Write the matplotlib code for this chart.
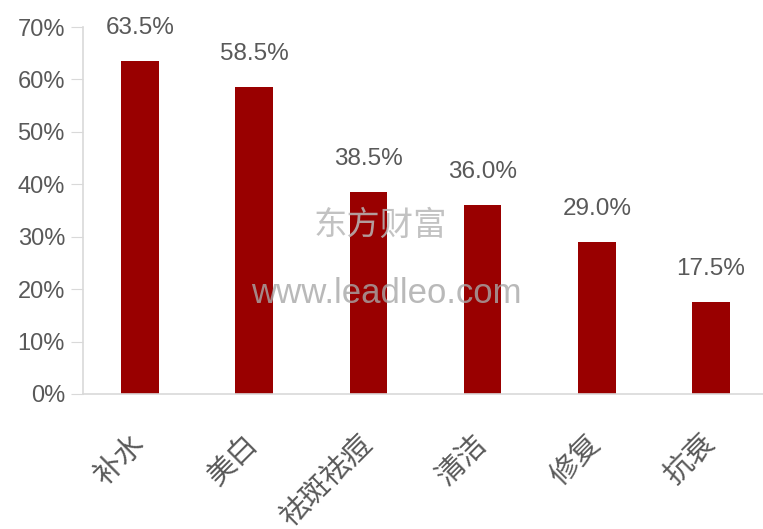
import matplotlib
matplotlib.use("Agg")
import matplotlib.pyplot as plt
from matplotlib.ticker import FuncFormatter
from matplotlib.transforms import ScaledTranslation

plt.rcParams["font.family"] = ["Liberation Sans", "Noto Sans CJK SC"]

categories = ["补水", "美白", "祛斑祛痘", "清洁", "修复", "抗衰"]
values = [63.5, 58.5, 38.5, 36.0, 29.0, 17.5]
yticks = [0, 10, 20, 30, 40, 50, 60, 70]

BAR = "#990000"
TEXT = "#595959"
AXIS = "#d9d9d9"


def main():
    fig = plt.figure(figsize=(7.63, 5.29), dpi=100)
    ax = fig.add_axes([0.1088, 0.2552, 0.8978, 0.6937])

    x = range(len(categories))
    ax.bar(x, values, width=0.33, color=BAR)
    for i, v in zip(x, values):
        ax.annotate(f"{v:.1f}%", (i, v), xytext=(0, 24), textcoords="offset points",
                    ha="center", va="center", fontsize=17.5, color=TEXT)

    ax.set_xlim(-0.5, len(categories) - 0.5)
    ax.set_ylim(0, 70)
    ax.set_yticks(yticks)
    ax.yaxis.set_major_formatter(FuncFormatter(lambda v, _: f"{v:.0f}%"))
    ax.set_xticks(list(x))
    ax.set_xticklabels(categories, rotation=45, ha="right", va="center",
                       rotation_mode="anchor", fontsize=21, color=TEXT)
    shift = ScaledTranslation(-12 / 100, 0, fig.dpi_scale_trans)
    for lab in ax.get_xticklabels():
        lab.set_transform(lab.get_transform() + shift)
    ax.tick_params(axis="y", length=9, color=AXIS, labelsize=17, labelcolor=TEXT, pad=4)
    ax.tick_params(axis="x", length=0, pad=33)

    for side in ("top", "right"):
        ax.spines[side].set_visible(False)
    for side in ("left", "bottom"):
        ax.spines[side].set_color(AXIS)
        ax.spines[side].set_linewidth(1.2)

    # watermark
    fig.text(0.498, 0.573, "东方财富", ha="center", va="center", fontsize=24,
             color="#b8b8b8", alpha=0.85)
    fig.text(0.506, 0.446, "www.leadleo.com", ha="center", va="center", fontsize=25,
             color="#a8a8a8", alpha=0.8)

    fig.savefig("out.png", dpi=100)


if __name__ == "__main__":
    main()
